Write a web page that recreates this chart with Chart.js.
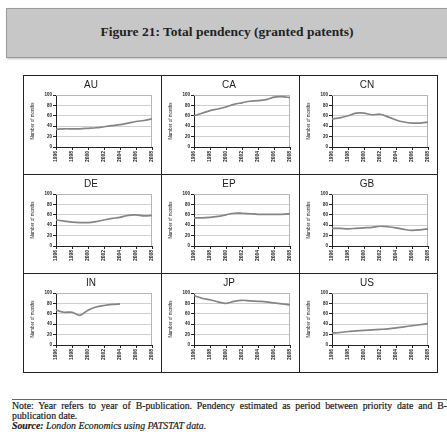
<!DOCTYPE html>
<html lang="en">
<head>
  <meta charset="UTF-8">
  <title>Figure 21: Total pendency (granted patents)</title>
  <script src="https://cdn.jsdelivr.net/npm/chart.js"></script>
  <style>
    body {
      margin: 0;
      width: 447px;
      height: 432px;
      background: #fff;
      position: relative;
      overflow: hidden;
    }
    .head {
      position: absolute;
      left: 6px;
      top: 8px;
      width: 450px;
      height: 48px;
      background: #c7c7c7;
      border: 1px solid #9a9a9a;
      box-shadow: 1px 1px 2px rgba(0,0,0,0.25);
    }
    .head h1 {
      position: absolute;
      left: 0;
      width: 440px;
      top: 15px;
      margin: 0;
      text-align: center;
      font: bold 13.5px "Liberation Serif", serif;
      color: #222;
    }
    .cell {
      position: absolute;
      width: 139px;
      height: 100px;
      box-sizing: border-box;
      border: 1.5px solid #222;
    }
    .cell canvas {
      position: absolute;
      left: 0;
      top: 0;
    }
    .note {
      position: absolute;
      left: 12px;
      top: 399px;
      width: 435px;
      border-top: 1px solid #666;
      font: 9.8px "Liberation Serif", serif;
      color: #1a1a1a;
      line-height: 10px;
      padding-top: 1px;
      -webkit-text-stroke: 0.2px #1a1a1a;
    }
    .note .l1 { text-align: justify; text-align-last: justify; white-space: nowrap; }
    .note .src { font-style: italic; }
  </style>
</head>
<body>

  <div class="head"><h1>Figure 21: Total pendency (granted patents)</h1></div>

  <div id="grid"></div>

  <div class="note">
    <div class="l1">Note: Year refers to year of B-publication. Pendency estimated as period between priority date and B-</div>
    <div>publication date.</div>
    <div class="src"><b>Source:</b> London Economics using PATSTAT data.</div>
  </div>

<script>
  // yearly values, months from priority date to grant
  const years = [1996, 1997, 1998, 1999, 2000, 2001, 2002, 2003, 2004, 2005, 2006, 2007, 2008];
  const yearTicks = [1996, 1998, 2000, 2002, 2004, 2006, 2008];
  const monthTicks = [0, 20, 40, 60, 80, 100];

  const countries = ['AU', 'CA', 'CN', 'DE', 'EP', 'GB', 'IN', 'JP', 'US'];
  const auMonths = [34, 35, 35, 35, 36, 37, 39, 41, 43, 46, 49, 51, 54];
  const caMonths = [60, 65, 70, 73, 77, 82, 85, 88, 89, 91, 96, 97, 95];
  const cnMonths = [54, 56, 60, 65, 65, 62, 63, 58, 52, 48, 46, 46, 48];
  const deMonths = [50, 48, 46, 45, 45, 47, 50, 53, 55, 59, 60, 58, 59];
  const epMonths = [54, 54, 55, 57, 60, 63, 63, 62, 61, 61, 61, 61, 62];
  const gbMonths = [34, 34, 33, 34, 35, 36, 38, 37, 35, 32, 30, 31, 33];
  const inMonths = [67, 63, 63, 57, 67, 73, 76, 78, 79, null, null, null, null];
  const jpMonths = [95, 90, 87, 83, 80, 84, 86, 85, 84, 83, 81, 79, 77];
  const usMonths = [23, 24, 26, 27, 28, 29, 30, 31, 33, 35, 37, 39, 41];

  const series = [auMonths, caMonths, cnMonths, deMonths, epMonths, gbMonths, inMonths, jpMonths, usMonths];

  // grey box round the plot area (top and right sides)
  const frame = {
    id: 'frame',
    beforeDatasetsDraw(chart) {
      const a = chart.chartArea, c = chart.ctx;
      c.save();
      c.strokeStyle = '#b5b5b5';
      c.lineWidth = 1;
      c.beginPath();
      c.moveTo(a.left, a.top + 0.5);
      c.lineTo(a.right - 0.5, a.top + 0.5);
      c.lineTo(a.right - 0.5, a.bottom);
      c.stroke();
      c.restore();
    }
  };

  const grid = document.getElementById('grid');

  countries.forEach((name, i) => {
    const col = i % 3, row = Math.floor(i / 3);
    const cell = document.createElement('div');
    cell.className = 'cell';
    cell.style.left = (23 + col * 138) + 'px';
    cell.style.top = (75 + row * 99) + 'px';
    const canvas = document.createElement('canvas');
    canvas.width = 136;
    canvas.height = 97;
    cell.appendChild(canvas);
    grid.appendChild(cell);

    new Chart(canvas, {
      type: 'line',
      data: {
        datasets: [{
          data: years.map((y, k) => ({ x: y, y: series[i][k] })),
          borderColor: '#858585',
          borderWidth: 1.7,
          pointRadius: 0,
          tension: 0.3,
          spanGaps: false
        }]
      },
      options: {
        responsive: false,
        animation: false,
        layout: { padding: { left: 6, right: 8, top: 0, bottom: 0 } },
        plugins: {
          legend: { display: false },
          tooltip: { enabled: false },
          title: {
            display: true,
            text: name,
            color: '#222',
            font: { family: 'Liberation Sans', size: 10, weight: 'normal' },
            padding: { top: 3, bottom: 4 }
          }
        },
        scales: {
          x: {
            type: 'linear',
            min: 1996,
            max: 2008,
            afterBuildTicks: s => { s.ticks = yearTicks.map(v => ({ value: v })); },
            afterFit: s => { s.height = 26; },
            ticks: {
              autoSkip: false,
              minRotation: 90,
              maxRotation: 90,
              padding: 1,
              color: '#222',
              font: { family: 'Liberation Sans', size: 5, weight: 'bold' },
              callback: v => String(v)
            },
            grid: { drawOnChartArea: false, tickLength: 3, tickColor: '#222' },
            border: { color: '#222', width: 1 }
          },
          y: {
            min: 0,
            max: 100,
            afterBuildTicks: s => { s.ticks = monthTicks.map(v => ({ value: v })); },
            afterFit: s => { s.width = 26; },
            ticks: {
              padding: 1,
              color: '#222',
              font: { family: 'Liberation Sans', size: 4.5, weight: 'bold' }
            },
            grid: { color: '#d0d0d0', tickLength: 3, tickColor: '#222' },
            border: { color: '#222', width: 1 },
            title: {
              display: true,
              text: 'Number of months',
              color: '#222',
              font: { family: 'Liberation Sans', size: 4.5 },
              padding: { top: 0, bottom: 0 }
            }
          }
        }
      },
      plugins: [frame]
    });
  });
</script>

</body>
</html>
